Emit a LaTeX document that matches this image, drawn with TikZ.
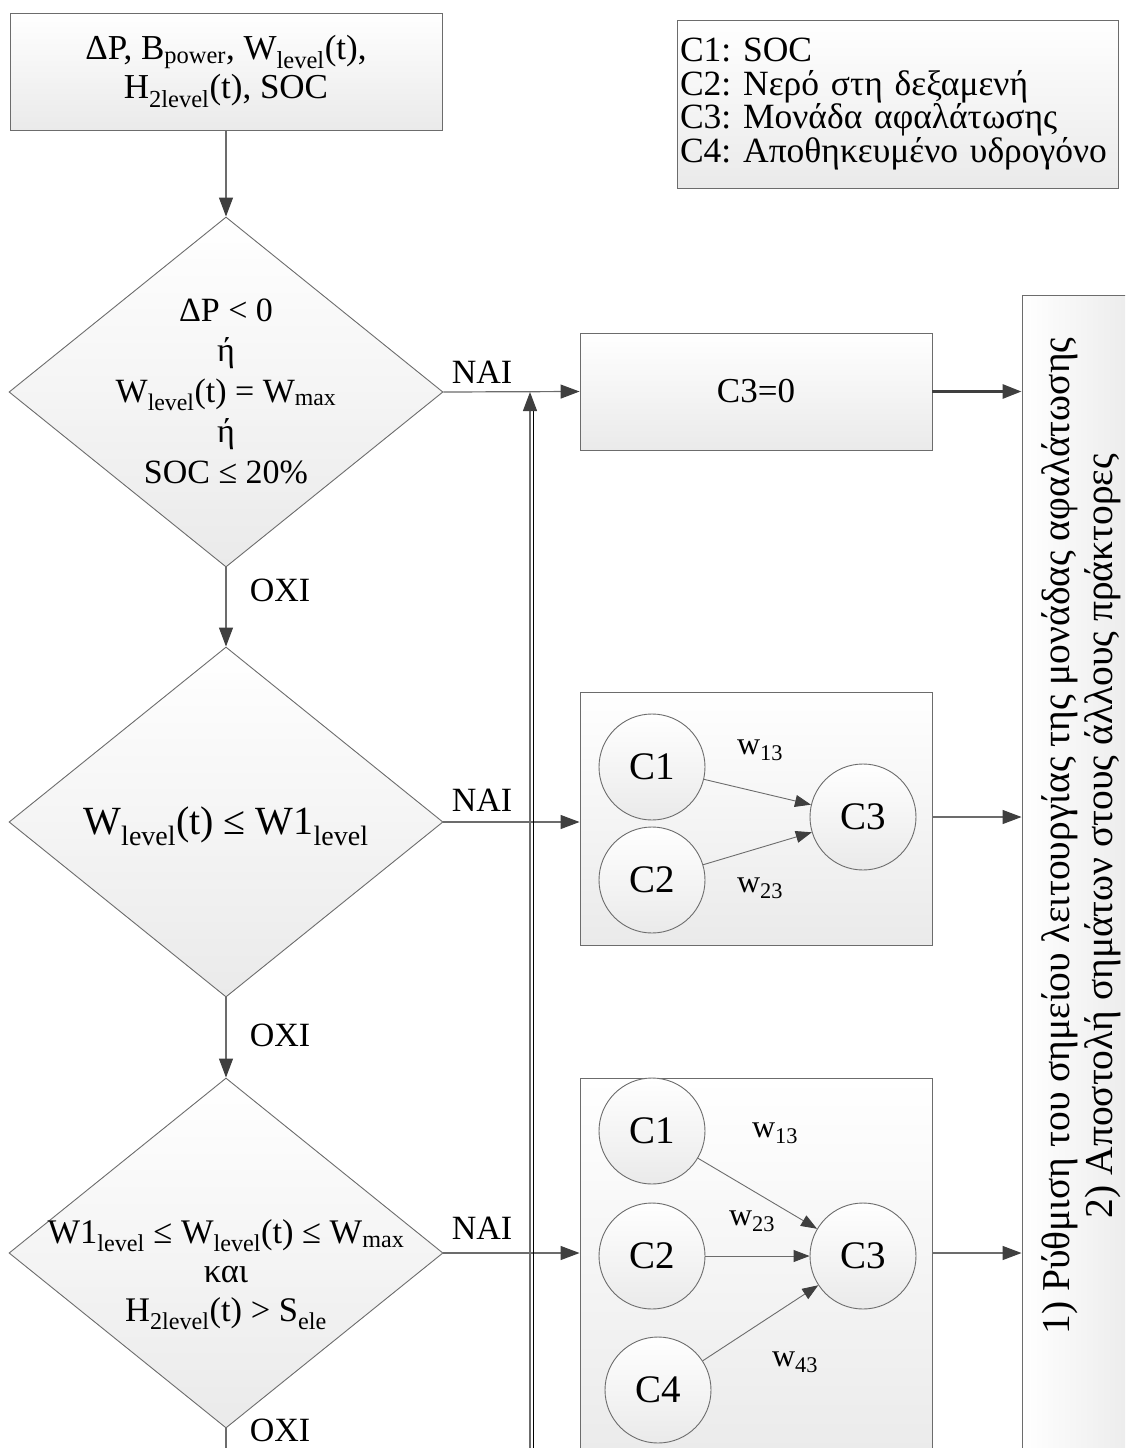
\documentclass[tikz,border=0pt]{standalone}
\usepackage{fontspec}
\setmainfont{Liberation Serif}
\usetikzlibrary{shapes.geometric,arrows.meta}

\definecolor{edge}{HTML}{6C6C6C}
\definecolor{tipc}{HTML}{3F3F3F}
\definecolor{fillbot}{HTML}{EAEAEA}
\definecolor{shade}{HTML}{E4E4E4}

\tikzset{
  shapebase/.style={draw=edge, line width=0.9pt, top color=white, bottom color=fillbot},
  boxnode/.style={shapebase, rectangle, inner sep=0pt, align=center,
    font=\fontsize{35}{39}\selectfont},
  decision/.style={shapebase, diamond, aspect=1.24, inner sep=0pt,
    minimum width=434pt, minimum height=350pt},
  dtext/.style={align=center, inner sep=0pt, font=\fontsize{34}{40.5}\selectfont},
  concept/.style={shapebase, circle, minimum size=106pt, inner sep=0pt,
    font=\fontsize{39}{40}\selectfont},
  flow/.style={draw=edge, line width=1.2pt,
    -{Triangle[length=19pt,width=14pt,color=tipc]}},
  thinflow/.style={draw=edge, line width=0.9pt,
    -{Triangle[length=16pt,width=12pt,color=tipc]}},
  answer/.style={font=\fontsize{34}{36}\selectfont, inner sep=0pt},
  weight/.style={font=\fontsize{32}{34}\selectfont, inner sep=0pt},
}

\begin{document}
\frenchspacing
\begin{tikzpicture}[x=1pt,y=-1pt]
\useasboundingbox (0,0) rectangle (1125,1448);
\clip (0,0) rectangle (1125,1448);

% inputs
\node[boxnode, minimum width=432pt, minimum height=117pt] (inp) at (226,71.5)
  {ΔP, B\textsubscript{power}, W\textsubscript{level}(t),\\ H\textsubscript{2level}(t), SOC};

% legend of the concepts
\node[boxnode, minimum width=441pt, minimum height=168pt, align=left,
  font=\fontsize{35.5}{33.5}\selectfont, text width=435pt] (legend) at (897.5,104)
  {C1: SOC\\ C2: Νερό στη δεξαμενή\\ C3: Μονάδα αφαλάτωσης\\ C4: Αποθηκευμένο υδρογόνο};

% decisions
\node[decision] (d1) at (226,392) {};
\node[dtext] (d1t) at (226,391)
  {ΔP < 0\\ ή\\ W\textsubscript{level}(t) = W\textsubscript{max}\\ ή\\ SOC ≤ 20\%};
\node[decision] (d2) at (226,822) {};
\node[dtext, font=\fontsize{40}{42}\selectfont] (d2t) at (226,826)
  {W\textsubscript{level}(t) ≤ W1\textsubscript{level}};
\node[decision] (d3) at (226,1253) {};
\node[dtext, font=\fontsize{34.5}{39}\selectfont] (d3t) at (226,1275)
  {W1\textsubscript{level} ≤ W\textsubscript{level}(t) ≤ W\textsubscript{max}\\ και\\ H\textsubscript{2level}(t) > S\textsubscript{ele}};

% actions
\node[boxnode, minimum width=352pt, minimum height=117pt] (zero) at (756,391.5) {C3=0};
\node[boxnode, minimum width=352pt, minimum height=253pt] (map2) at (756,818.5) {};
\node[boxnode, minimum width=352pt, minimum height=392pt] (map3) at (756,1274) {};

% output block
\node[draw=edge, line width=0.9pt, rectangle, left color=white, right color=fillbot,
  minimum width=118pt, minimum height=1175pt] (out) at (1081,882.5) {};
\node[rotate=90, align=center, font=\fontsize{39.5}{43}\selectfont, inner sep=0pt] (outtxt) at (1081,836)
  {1) Ρύθμιση του σημείου λειτουργίας της μονάδας αφαλάτωσης\\ 2) Αποστολή σημάτων στους άλλους πράκτορες};

% concept map, second case
\node[concept] (a1) at (652,767) {C1};
\node[concept] (a2) at (652,880) {C2};
\node[concept] (a3) at (863,817) {C3};
\draw[thinflow] (a1) -- (a3);
\draw[thinflow] (a2) -- (a3);
\node[weight] (aw13) at (760,750) {w\textsubscript{13}};
\node[weight] (aw23) at (760,888) {w\textsubscript{23}};

% concept map, third case
\node[concept] (b1) at (652,1131) {C1};
\node[concept] (b2) at (652,1256) {C2};
\node[concept] (b3) at (863,1256) {C3};
\node[concept] (b4) at (658,1390) {C4};
\draw[thinflow] (b1) -- (b3);
\draw[thinflow] (b2) -- (b3);
\draw[thinflow] (b4) -- (b3);
\node[weight] (bw13) at (775,1133) {w\textsubscript{13}};
\node[weight] (bw23) at (752,1221) {w\textsubscript{23}};
\node[weight] (bw43) at (795,1362) {w\textsubscript{43}};

% main flow
\draw[flow] (inp) -- (d1);
\draw[flow] (d1) -- (d2);
\draw[flow] (d2) -- (d3);
\coordinate (tail) at (226,1460);
\draw[draw=edge, line width=1.2pt] (d3.south) -- (tail);

\draw[flow] (d1.east) -- (zero.west);
\draw[flow] (d2.east) -- (d2.east -| map2.west);
\draw[flow] (d3.east) -- (d3.east -| map3.west);

% feedback line with its soft shadow
\coordinate (fb) at (530,1460);
\draw[shade, line width=1.5pt] ([xshift=3.5pt]fb) -- ([xshift=3.5pt,yshift=-16pt]fb |- d1.east);
\draw[flow] (fb) -- (fb |- d1.east);

% to the output block
\draw[draw=tipc, line width=3pt, -{Triangle[length=19pt,width=14pt,color=tipc]}] (zero.east) -- (zero.east -| out.west);
\draw[flow] (a3.east -| map2.east) -- (a3.east -| out.west);
\draw[flow] (d3.east -| map3.east) -- (d3.east -| out.west);

% branch labels
\node[answer] (y1) at (482,372) {NAI};
\node[answer] (y2) at (482,800) {NAI};
\node[answer] (y3) at (482,1228) {NAI};
\node[answer] (n1) at (280,590) {OXI};
\node[answer] (n2) at (280,1035) {OXI};
\node[answer] (n3) at (280,1430) {OXI};
\end{tikzpicture}
\end{document}
